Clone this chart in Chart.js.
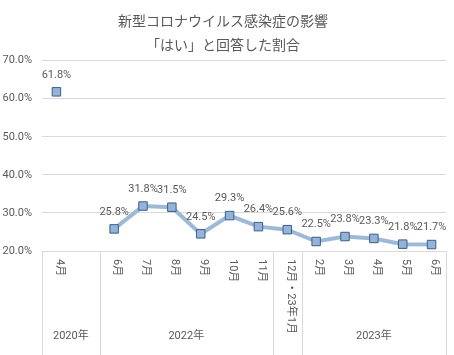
<!DOCTYPE html>
<html>
<head>
<meta charset="utf-8">
<script src="https://cdn.jsdelivr.net/npm/chart.js@4"></script>
<style>
html,body{margin:0;padding:0;background:#fff;}
#wrap{width:454px;height:355px;}
</style>
</head>
<body>
<div id="wrap"><canvas id="c" width="454" height="355"></canvas></div>
<script>
const titleLines = ['新型コロナウイルス感染症の影響', '「はい」と回答した割合'];
const months = ['4月', '', '6月', '7月', '8月', '9月', '10月', '11月', '12月・23年1月', '2月', '3月', '4月', '5月', '6月'];
const values = [61.8, null, 25.8, 31.8, 31.5, 24.5, 29.3, 26.4, 25.6, 22.5, 23.8, 23.3, 21.8, 21.7];
const groupLabels = ['2020年', '2022年', '', '2023年'];
const groupSizes = [2, 6, 1, 5];
const yTicks = [20, 30, 40, 50, 60, 70];

const FONT = '"Noto Sans CJK JP", "Noto Sans", sans-serif';
const NUMFONT = 'Roboto, "Noto Sans CJK JP", sans-serif';
const TEXT = '#595959';
const GRID = '#D9D9D9';

const axisPlugin = {
  id: 'multiAxis',
  afterDraw(chart) {
    const ctx = chart.ctx;
    const x = chart.scales.x;
    const area = chart.chartArea;
    const bottom = chart.height;
    const step = x.getPixelForValue(1) - x.getPixelForValue(0);
    ctx.save();
    ctx.strokeStyle = GRID;
    ctx.lineWidth = 1;
    let idx = 0;
    const bounds = [idx];
    groupSizes.forEach(s => { idx += s; bounds.push(idx); });
    bounds.forEach(b => {
      const px = Math.round(x.getPixelForValue(b) - step / 2) + 0.5;
      ctx.beginPath();
      ctx.moveTo(px, area.bottom);
      ctx.lineTo(px, bottom);
      ctx.stroke();
    });
    ctx.fillStyle = TEXT;
    ctx.font = '11px ' + NUMFONT;
    ctx.textAlign = 'left';
    ctx.textBaseline = 'middle';
    months.forEach((m, i) => {
      if (!m) return;
      const px = x.getPixelForValue(i) + 3;
      ctx.save();
      ctx.translate(px, area.bottom + 8);
      ctx.rotate(Math.PI / 2);
      ctx.fillText(m, 0, 0);
      ctx.restore();
    });
    ctx.textAlign = 'center';
    ctx.font = '11px ' + NUMFONT;
    let start = 0;
    groupSizes.forEach((s, g) => {
      const l = x.getPixelForValue(start) - step / 2;
      const r = x.getPixelForValue(start + s - 1) + step / 2;
      if (groupLabels[g]) ctx.fillText(groupLabels[g], (l + r) / 2, 336);
      start += s;
    });
    ctx.restore();
  },
  afterDatasetsDraw(chart) {
    const ctx = chart.ctx;
    const meta = chart.getDatasetMeta(0);
    ctx.save();
    ctx.fillStyle = TEXT;
    ctx.font = '11px ' + NUMFONT;
    ctx.textAlign = 'center';
    ctx.textBaseline = 'middle';
    meta.data.forEach((pt, i) => {
      const v = values[i];
      if (v === null) return;
      ctx.fillText(v.toFixed(1) + '%', pt.x, pt.y - 17);
    });
    ctx.restore();
  }
};

new Chart(document.getElementById('c'), {
  type: 'line',
  data: {
    labels: months,
    datasets: [{
      data: values,
      borderColor: '#9DB9D8',
      borderWidth: 4,
      pointStyle: 'rect',
      pointRadius: 6,
      pointHoverRadius: 6,
      pointBackgroundColor: '#95B3D7',
      pointBorderColor: '#3A5E8C',
      pointBorderWidth: 1,
      spanGaps: false,
      tension: 0
    }]
  },
  options: {
    responsive: false,
    animation: false,
    devicePixelRatio: 1,
    layout: { padding: { left: 0, right: 8, top: 0, bottom: 104 } },
    plugins: {
      legend: { display: false },
      tooltip: { enabled: false },
      title: {
        display: true,
        text: titleLines,
        color: TEXT,
        font: { family: FONT, size: 14, weight: 'normal', lineHeight: 1.7 },
        padding: { top: 9, bottom: 4 }
      }
    },
    scales: {
      x: {
        type: 'category',
        display: false,
        offset: true
      },
      y: {
        min: 20,
        max: 70,
        afterFit(scale) { scale.width = 42; },
        afterBuildTicks(scale) { scale.ticks = yTicks.map(v => ({ value: v })); },
        ticks: {
          padding: 10,
          color: TEXT,
          font: { family: NUMFONT, size: 11 },
          callback: v => v.toFixed(1) + '%'
        },
        grid: { color: GRID, drawTicks: false },
        border: { display: false }
      }
    }
  },
  plugins: [axisPlugin]
});
</script>
</body>
</html>
